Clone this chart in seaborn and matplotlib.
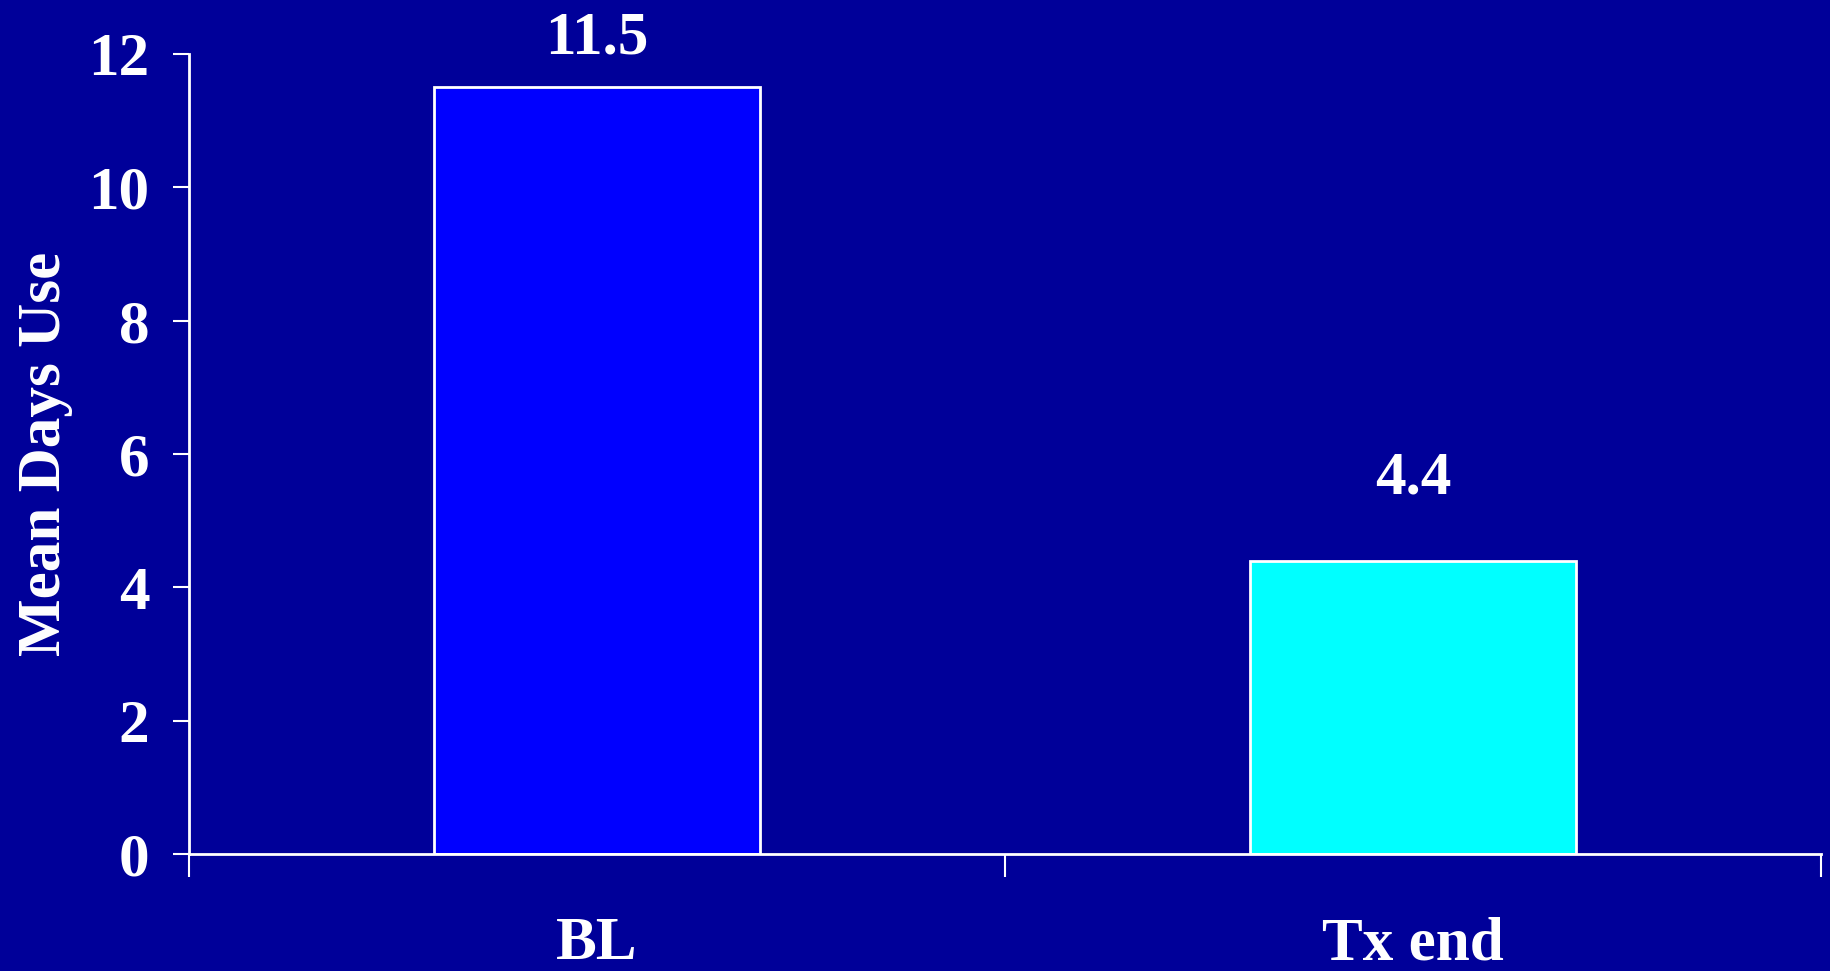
import seaborn as sns
import matplotlib.pyplot as plt
import pandas as pd

# data
phases = ['BL', 'Tx end']
mean_days = [11.5, 4.4]
bar_colors = ['#0000FF', '#00FFFF']
bg = '#000099'

df = pd.DataFrame({'phase': phases, 'days': mean_days})

sns.set_style('ticks')
plt.rcParams['font.family'] = ['Liberation Serif', 'DejaVu Serif']
plt.rcParams['font.weight'] = 'bold'

fig = plt.figure(figsize=(18.3, 9.71), dpi=100, facecolor=bg)
ax = fig.add_axes([0.1033, 0.1205, 0.8918, 0.824])
ax.set_facecolor(bg)

sns.barplot(data=df, x='phase', y='days', hue='phase', palette=bar_colors,
            saturation=1, legend=False, width=0.4, edgecolor='white',
            linewidth=2, ax=ax)

ax.set_xlim(-0.5, 1.5)
ax.set_ylim(0, 12)

# value labels above bars (the tall one is held just under the top)
for i, v in enumerate(mean_days):
    ax.text(i, min(v + 1.0, 12.0), '%s' % v, ha='center', va='baseline',
            color='white', fontsize=44, fontweight='bold', clip_on=False)

for s in ['top', 'right']:
    ax.spines[s].set_visible(False)
for s in ['left', 'bottom']:
    ax.spines[s].set_color('white')
    ax.spines[s].set_linewidth(2)
ax.spines['left'].set_bounds(0, 12)

ax.set_yticks([0, 2, 4, 6, 8, 10, 12])
ax.tick_params(axis='y', colors='white', length=11.5, width=1.5, pad=17,
               labelsize=44)

# ticks sit between the groups, names go under the bars
ax.set_xticks([-0.5, 0.5, 1.5])
ax.set_xticklabels([])
ax.set_xticks([0, 1], minor=True)
ax.set_xticklabels(phases, minor=True)
ax.tick_params(axis='x', which='major', colors='white', length=16.5, width=1.5)
ax.tick_params(axis='x', which='minor', colors='white', length=0, pad=45,
               labelsize=44)

ax.set_xlabel('')
ax.set_ylabel('Mean Days Use', color='white', fontsize=44, fontweight='bold',
              labelpad=11)

fig.savefig('out.png', dpi=100, facecolor=bg)
